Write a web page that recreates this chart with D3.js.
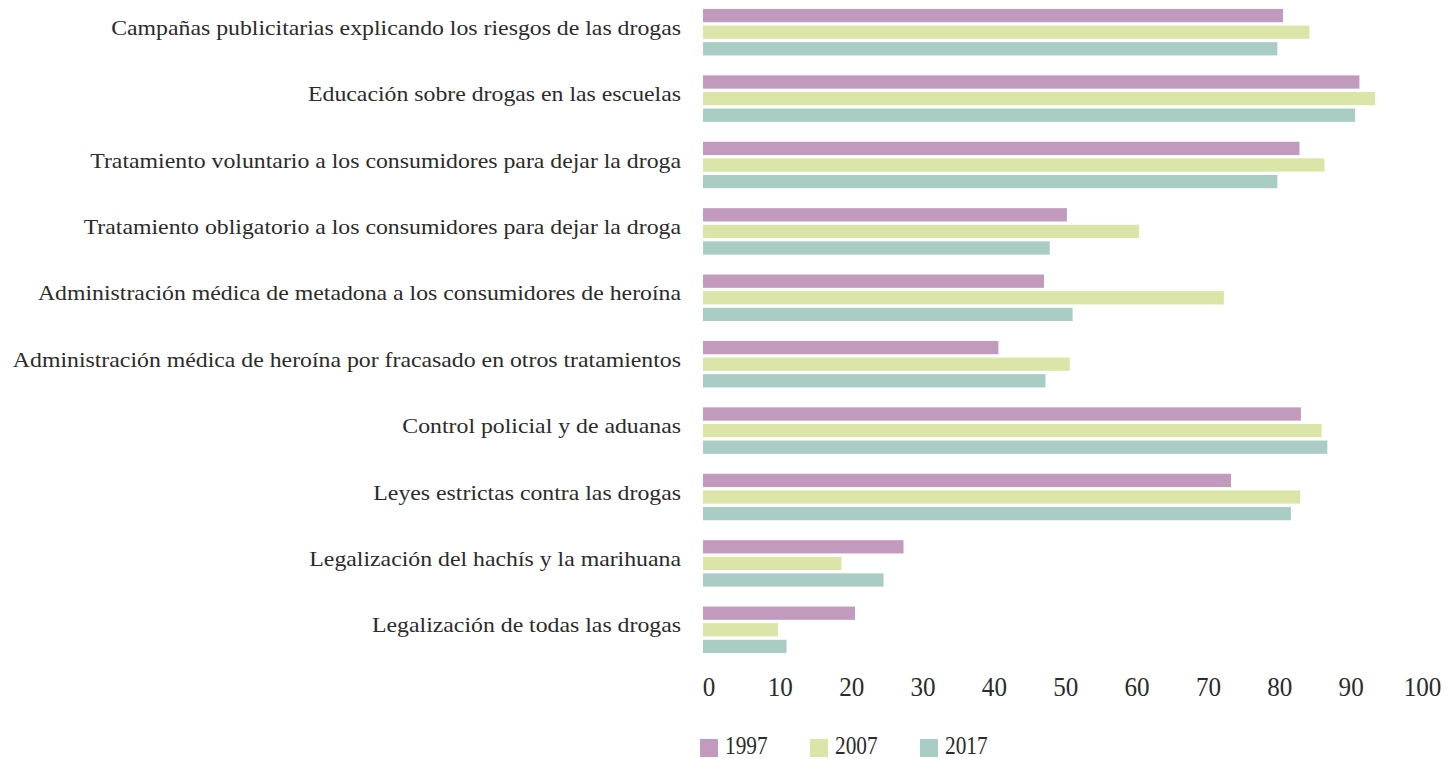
<!DOCTYPE html>
<html>
<head>
<meta charset="utf-8">
<script src="https://cdn.jsdelivr.net/npm/d3@7"></script>
<style>
  html, body { margin: 0; padding: 0; background: #fff; }
  svg { display: block; }
  text { font-family: "Liberation Serif", "DejaVu Serif", serif; fill: #2b2b2b; }
</style>
</head>
<body>
<svg id="chart" width="1455" height="759"></svg>
<script>
const categories = [
  "Campañas publicitarias explicando los riesgos de las drogas",
  "Educación sobre drogas en las escuelas",
  "Tratamiento voluntario a los consumidores para dejar la droga",
  "Tratamiento obligatorio a los consumidores para dejar la droga",
  "Administración médica de metadona a los consumidores de heroína",
  "Administración médica de heroína por fracasado en otros tratamientos",
  "Control policial y de aduanas",
  "Leyes estrictas contra las drogas",
  "Legalización del hachís y la marihuana",
  "Legalización de todas las drogas"
];
const seriesNames = ["1997", "2007", "2017"];
const values1997 = [81.3, 92.0, 83.6, 51.0, 47.8, 41.4, 83.8, 74.0, 28.1, 21.3];
const values2007 = [85.0, 94.2, 87.1, 61.1, 73.0, 51.4, 86.7, 83.7, 19.4, 10.5];
const values2017 = [80.5, 91.4, 80.5, 48.6, 51.8, 48.0, 87.5, 82.4, 25.3, 11.7];
const colors = ["#c29abd", "#dbe5a7", "#a9cdc4"];
const xTicks = [0, 10, 20, 30, 40, 50, 60, 70, 80, 90, 100];

const series = [values1997, values2007, values2017];
const svg = d3.select("#chart");

const x = d3.scaleLinear().domain([0, 100]).range([703, 1416.5]);
const y = d3.scaleBand().domain(categories).range([-1, 663]).paddingInner(0.3).paddingOuter(0.15);
const ySub = d3.scaleBand().domain(seriesNames).range([0, y.bandwidth()]).paddingInner(0.2);

const groups = svg.selectAll("g.cat")
  .data(categories)
  .join("g")
  .attr("class", "cat")
  .attr("transform", d => `translate(0,${y(d)})`);

groups.selectAll("rect")
  .data((d, i) => seriesNames.map((s, j) => ({ s, j, v: series[j][i] })))
  .join("rect")
  .attr("x", x(0))
  .attr("y", d => ySub(d.s))
  .attr("width", d => x(d.v) - x(0))
  .attr("height", ySub.bandwidth())
  .attr("fill", d => colors[d.j]);

// category labels, right-aligned against the bars (slightly widened serif)
const labelRight = 681;
groups.append("text")
  .attr("transform", `translate(${labelRight},${y.bandwidth() / 2 + 2.5}) scale(1.107,1)`)
  .attr("text-anchor", "end")
  .style("font-size", "21.5px")
  .text(d => d);

// value axis labels along the bottom
const axis = d3.axisBottom(x).tickValues(xTicks).tickSize(0).tickPadding(0);
const gx = svg.append("g").attr("transform", "translate(5.5,696)").call(axis);
gx.select(".domain").remove();
gx.selectAll(".tick text")
  .attr("y", 0)
  .attr("dy", 0)
  .attr("transform", "scale(0.93,1)")
  .style("font-size", "27px")
  .style("font-family", "'Liberation Serif', serif")
  .attr("fill", "#2b2b2b");

// legend
const legendX = [700, 810, 920];
const legend = svg.selectAll("g.leg")
  .data(seriesNames)
  .join("g")
  .attr("class", "leg")
  .attr("transform", (d, i) => `translate(${legendX[i]},739)`);
legend.append("rect").attr("width", 18).attr("height", 18).attr("fill", (d, i) => colors[i]);
legend.append("text")
  .attr("transform", "translate(25,15) scale(0.82,1)")
  .style("font-size", "26px")
  .text(d => d);
</script>
</body>
</html>
